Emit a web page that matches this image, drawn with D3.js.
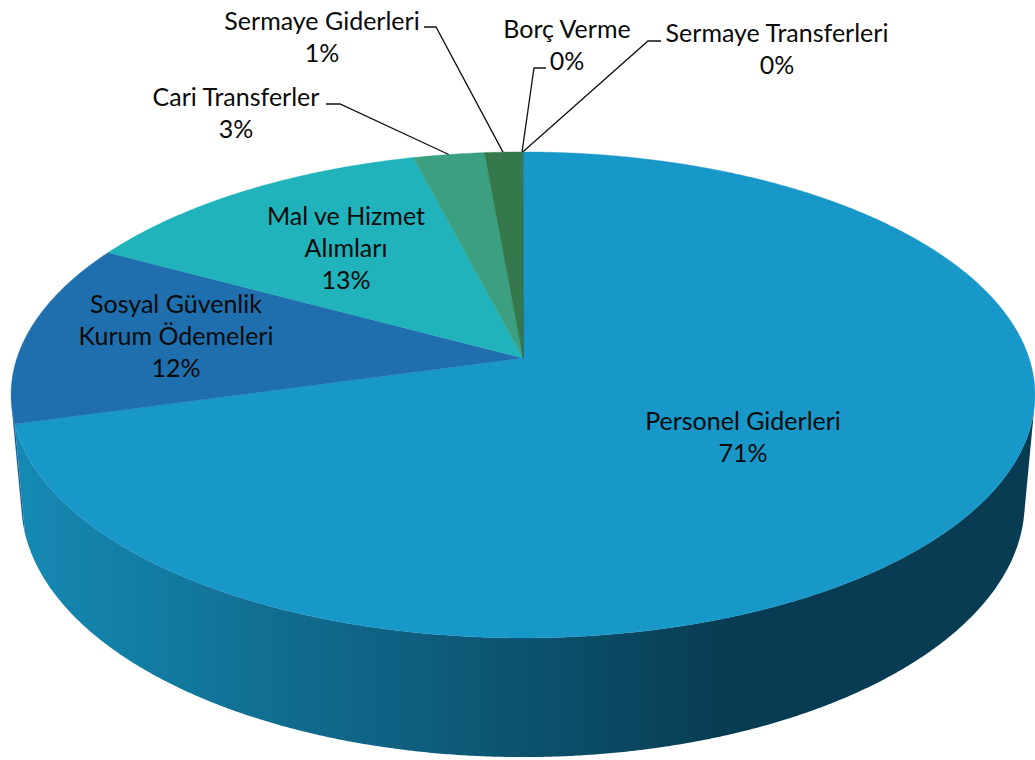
<!DOCTYPE html>
<html>
<head>
<meta charset="utf-8">
<script src="https://cdn.jsdelivr.net/npm/d3@7"></script>
<style>
  html, body { margin: 0; padding: 0; background: #fff; }
  svg { display: block; }
  text { font-family: Lato, sans-serif; font-size: 25px; fill: #0a0a0a; }
</style>
</head>
<body>
<svg id="pie" width="1035" height="760"></svg>
<script>
const categories = ['Personel Giderleri', 'Sosyal Güvenlik Kurum Ödemeleri', 'Mal ve Hizmet Alımları',
  'Cari Transferler', 'Sermaye Giderleri', 'Borç Verme', 'Sermaye Transferleri'];
const values = [70.7, 12.2, 13.1, 2.6, 1.35, 0.03, 0.02];
const percentLabels = ['71%', '12%', '13%', '3%', '1%', '0%', '0%'];
const topColors = ['#1897c9', '#1f6fae', '#20b3bb', '#3aa081', '#35784c', '#2c6a44', '#2c6a44'];
const wallColors = ['url(#wall)', '#1b619b', '#1b9da4', '#328c70', '#2c6a44', '#2c6a44', '#2c6a44'];

// label text lines and where they sit
const labelLines = [
  ['Personel Giderleri', '71%'],
  ['Sosyal Güvenlik', 'Kurum Ödemeleri', '12%'],
  ['Mal ve Hizmet', 'Alımları', '13%'],
  ['Cari Transferler', '3%'],
  ['Sermaye Giderleri', '1%'],
  ['Borç Verme'],
  ['Sermaye Transferleri', '0%'],
];
const labelAt = [[743, 420], [176, 303], [346, 215], [236, 96], [322, 20], [567, 28], [777, 32]];

// leaders: [slice index, line start, elbow]
const leaders = [
  [3, [326, 104], [340, 104]],
  [4, [424, 27], [436, 27]],
  [5, [546, 68], [534, 68]],
  [6, [661, 41], [648, 41]],
];

const svg = d3.select('#pie');

// Tilted disc seen in perspective. u, v are on the unit circle, z goes down the wall
const project = (t, z = 0) => {
  const u = Math.sin(t);
  const v = -Math.cos(t);
  const w = 1 - 0.152 * v + 0.02 * z;
  return [523 + (506 * u) / w, 358 + (237.4 * v + 109 * z) / w];
};

const slices = d3.pie().sort(null).value(d => d)(values);
const line = d3.line();

const arcAngles = (s) => {
  const n = Math.max(2, Math.ceil((s.endAngle - s.startAngle) / 0.005));
  return d3.range(n + 1).map(i => s.startAngle + ((s.endAngle - s.startAngle) * i) / n);
};

// Only the part of the wall turned towards us
const facesViewer = (t) => {
  const a = project(t - 0.002);
  const b = project(t + 0.002);
  const p = project(t);
  const q = project(t, 1);
  return (b[0] - a[0]) * (q[1] - p[1]) - (b[1] - a[1]) * (q[0] - p[0]) < 0;
};

const grad = svg.append('defs').append('linearGradient')
  .attr('id', 'wall')
  .attr('gradientUnits', 'userSpaceOnUse')
  .attr('x1', 25).attr('x2', 730)
  .attr('y1', 0).attr('y2', 0);
grad.append('stop').attr('offset', 0).attr('stop-color', '#1589b3');
grad.append('stop').attr('offset', 1).attr('stop-color', '#083c52');

// Walls
svg.append('g').selectAll('path')
    .data(slices)
  .enter().append('path')
    .attr('fill', (d, i) => wallColors[i])
    .attr('d', (d) => {
      const ts = arcAngles(d).filter(facesViewer);
      if (!ts.length) return null;
      return `${line(ts.map(t => project(t)).concat(ts.slice().reverse().map(t => project(t, 1))))}Z`;
    });

// Top faces
svg.append('g').selectAll('path')
    .data(slices)
  .enter().append('path')
    .attr('fill', (d, i) => topColors[i])
    .attr('stroke', (d, i) => topColors[i])
    .attr('stroke-width', 0.4)
    .attr('d', d => `${line([[523, 358]].concat(arcAngles(d).map(t => project(t))))}Z`);

// Leader lines
svg.append('g').selectAll('path')
    .data(leaders)
  .enter().append('path')
    .attr('fill', 'none')
    .attr('stroke', '#111')
    .attr('stroke-width', 1.3)
    .attr('d', (d) => {
      const s = slices[d[0]];
      return line([d[1], d[2], project((s.startAngle + s.endAngle) / 2)]);
    });

// Labels
const labels = svg.append('g').selectAll('text')
    .data(labelLines)
  .enter().append('text')
    .attr('text-anchor', 'middle')
    .attr('dominant-baseline', 'central')
    .attr('transform', (d, i) => `translate(${labelAt[i]})`);

labels.selectAll('tspan')
    .data(d => d)
  .enter().append('tspan')
    .attr('x', 0)
    .attr('y', (d, i) => i * 32)
    .text(d => d);

// the 0% of Borç Verme sits beside its leader
svg.append('text')
  .attr('text-anchor', 'middle')
  .attr('dominant-baseline', 'central')
  .attr('x', 567)
  .attr('y', 60)
  .text(percentLabels[5]);
</script>
</body>
</html>
